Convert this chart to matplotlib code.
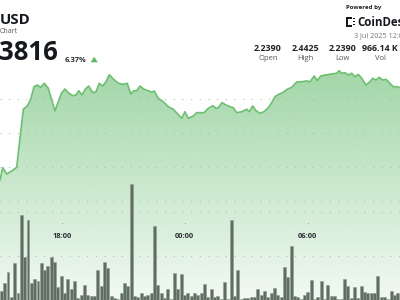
import numpy as np
import matplotlib
matplotlib.use("Agg")
import matplotlib.pyplot as plt
from matplotlib.transforms import blended_transform_factory

plt.rcParams['font.family'] = ['Open Sans', 'DejaVu Sans']

# ---------------- data ----------------
# price line: hours after 15:00 and price
price_hours = [-0.015, 0.117, 0.312, 0.556, 0.8, 1.122, 1.317, 1.483, 1.644, 1.805, 1.971, 2.146,
               2.341, 2.507, 2.668, 2.829, 2.995, 3.156, 3.317, 3.532, 3.693, 3.824, 3.985, 4.146,
               4.312, 4.507, 4.668, 4.829, 4.995, 5.156, 5.317, 5.512, 5.756, 5.971, 6.195, 6.361,
               6.522, 6.654, 6.815, 7.01, 7.22, 7.385, 7.512, 7.707, 7.951, 8.195, 8.439, 8.654,
               8.849, 9.01, 9.171, 9.415, 9.58, 9.741, 9.937, 10.146, 10.361, 10.522, 10.634, 10.815,
               11.01, 11.205, 11.366, 11.532, 11.776, 12.02, 12.146, 12.312, 12.473, 12.668, 12.863,
               13.073, 13.239, 13.4, 13.61, 13.776, 14.0, 14.215, 14.459, 14.702, 14.946, 15.107,
               15.317, 15.463, 15.629, 15.839, 16.166, 16.41, 16.537, 16.654, 16.815, 16.976, 17.141,
               17.302, 17.463, 17.63, 17.839, 18.034, 18.166, 18.327, 18.488, 18.654, 18.815, 18.976,
               19.171, 19.366, 19.498]
price_values = [2.2809, 2.2990, 2.2897, 2.2941, 2.2996, 2.3849, 2.3897, 2.3996, 2.4181, 2.4206, 2.4172,
                2.4231, 2.4157, 2.3985, 2.3828, 2.3960, 2.4093, 2.4147, 2.4093, 2.4049, 2.4059, 2.4122,
                2.4059, 2.4143, 2.4191, 2.4093, 2.4107, 2.4231, 2.4191, 2.4254, 2.4357, 2.4294, 2.4231,
                2.4216, 2.4231, 2.4074, 2.4122, 2.4122, 2.4191, 2.4143, 2.4122, 2.4099, 2.4118, 2.4010,
                2.3960, 2.3887, 2.3849, 2.3779, 2.3716, 2.3813, 2.3716, 2.3750, 2.3799, 2.3799, 2.3799,
                2.3863, 2.3901, 2.3863, 2.3872, 2.3946, 2.3912, 2.3887, 2.3872, 2.3799, 2.3813, 2.3849,
                2.3813, 2.3897, 2.3828, 2.3790, 2.3813, 2.3872, 2.3946, 2.4034, 2.4074, 2.4093, 2.4143,
                2.4172, 2.4250, 2.4254, 2.4265, 2.4254, 2.4338, 2.4269, 2.4338, 2.4353, 2.4368, 2.4378,
                2.4416, 2.4378, 2.4387, 2.4353, 2.4378, 2.4328, 2.4363, 2.4304, 2.4206, 2.4254, 2.4304,
                2.4279, 2.4319, 2.4279, 2.4290, 2.4240, 2.4181, 2.4181, 2.4166]

# volume bars (thousands)
volumes = [4.2, 7.7, 12.7, 1.4, 16.8, 3.2, 38.6, 19.5, 36.4, 7.7, 9.5, 8.6, 16.8, 13.6, 15.5, 19.5,
           17.3, 5.9, 10.9, 3.2, 9.5, 5.0, 8.6, 0.9, 2.3, 6.8, 2.3, 1.8, 1.8, 13.6, 6.4, 17.3, 14.5,
           1.8, 0.9, 0.5, 3.2, 7.7, 6.4, 52.7, 1.8, 1.4, 3.2, 1.8, 2.3, 3.2, 33.6, 6.8, 3.2, 0.9, 5.0,
           0.5, 12.3, 5.0, 11.8, 2.3, 3.2, 1.8, 3.2, 2.3,
           3.2, 7.3, 1.4, 5.0, 1.4, 1.8, 0.5, 8.2, 0.5, 36.4, 1.8, 13.6, 0.5, 0.9, 0.9, 1.4, 1.4, 5.0,
           2.3, 4.1, 1.4, 3.2, 5.5, 2.3, 1.4, 15.0, 10.5, 24.5, 1.8, 1.4, 0.5, 2.3, 3.6, 9.1, 0.5, 1.4,
           8.6, 0.5, 6.8, 1.8, 1.8, 0.5, 0.5, 9.5, 6.4, 0.9, 5.9, 0.9, 6.4, 3.6, 3.2, 3.2, 3.2, 10.9,
           1.4, 1.4, 0.5, 4.1, 2.3, 3.2]
bar_start_h = 0.05
bar_interval_h = 0.1625

tick_hours = [3, 9, 15]
tick_labels = ["18:00", "00:00", "06:00"]

price_grid = [2.25, 2.30, 2.35, 2.40]
volume_grid = [20, 40]

stat_values = ["2.2390", "2.4425", "2.2390", "966.14 K"]
stat_names = ["Open", "High", "Low", "Vol"]

# ---------------- figure ----------------
W, H = 400, 300
fig = plt.figure(figsize=(4, 3), dpi=100)
fig.patch.set_facecolor('white')
ax = fig.add_axes([0, 0, 1, 1])
ax.set_xlim(-0.0146, 19.498)
ax.set_ylim(2.1044, 2.5456)
ax.axis('off')

axv = ax.twinx()
axv.set_ylim(0, 136.36)
axv.axis('off')

line_color = '#6cc070'
x = np.array(price_hours)
y = np.array(price_values)

# gradient fill
poly = ax.fill_between(x, y, 2.1044, facecolor='none', edgecolor='none')
grad = np.zeros((256, 1, 4))
base = matplotlib.colors.to_rgb('#5cb866')
grad[..., 0] = base[0]
grad[..., 1] = base[1]
grad[..., 2] = base[2]
grad[:, 0, 3] = np.linspace(0.72, 0.08, 256)
im = ax.imshow(grad, extent=[-0.0146, 19.498, 2.1044, 2.5456], aspect='auto',
               origin='upper', zorder=1, interpolation='bilinear')
im.set_clip_path(poly.get_paths()[0], transform=ax.transData)

dots = (0, (0.9, 6.9))
for g in price_grid:
    ax.axhline(g, color='#b5b5b5', lw=0.8, linestyle=dots, zorder=2)
ax.plot(x, y, color=line_color, lw=1.2, zorder=3, solid_joinstyle='round')

for g in volume_grid:
    axv.axhline(g, color='#b5b5b5', lw=0.8, linestyle=dots, zorder=1)
bar_x = bar_start_h + bar_interval_h * np.arange(len(volumes))
axv.bar(bar_x, volumes, width=bar_interval_h * 0.88, color='#5f6e61',
        edgecolor='#8e9c90', linewidth=0.4, zorder=2)

trans = blended_transform_factory(ax.transData, ax.transAxes)
for th, tl in zip(tick_hours, tick_labels):
    axv.text(th, 1 - 237.5 / H, tl, transform=trans, ha='center', va='baseline',
             fontsize=5.4, fontweight='bold', color='#2b2f33', zorder=5)
    axv.plot([th], [1 - 223.3 / H], transform=trans, marker='s', ms=0.6, mew=0,
             color='#9a9a9a', zorder=5)

# ---------------- header texts ----------------
def ft(px, py, s, **kw):
    fig.text(px / W, 1 - py / H, s, **kw)

ft(0, 24, "USD", fontsize=10.8, fontweight='bold', color='#15191e', va='baseline')
ft(0, 32.7, "Chart", fontsize=5, color='#555555', va='baseline')
ft(-1, 60, "3816", fontsize=18.5, fontweight='bold', color='#15191e', va='baseline')
ft(65, 62, "6.37%", fontsize=5.4, fontweight='bold', color='#2b2f33', va='baseline')
fig.patches.append(plt.Polygon([[90.7 / W, 1 - 62.3 / H], [97.7 / W, 1 - 62.3 / H],
                                [94.2 / W, 1 - 56.7 / H]], closed=True,
                               transform=fig.transFigure, facecolor='#5cb85c',
                               edgecolor='none', figure=fig))

ft(345.7, 9.5, "Powered by", fontsize=4.4, fontweight='bold', color='#222222', va='baseline')
# CoinDesk logo icon (bracket glyph)
fig.patches.append(plt.Rectangle((345.7 / W, 1 - 26.5 / H), 2.2 / W, 9.5 / H,
                                 transform=fig.transFigure, facecolor='#15191e',
                                 edgecolor='none', figure=fig))
for yy in (17.2, 25.0):
    fig.patches.append(plt.Rectangle((345.7 / W, 1 - (yy + 1.5) / H), 6.0 / W, 1.5 / H,
                                     transform=fig.transFigure, facecolor='#15191e',
                                     edgecolor='none', figure=fig))
for yy in (18.0, 21.0, 24.0):
    fig.patches.append(plt.Rectangle((353.0 / W, 1 - (yy + 1.3) / H), 1.5 / W, 1.3 / H,
                                     transform=fig.transFigure, facecolor='#15191e',
                                     edgecolor='none', figure=fig))
ft(357, 26, "CoinDesk", fontsize=8.3, fontweight='bold', color='#15191e', va='baseline')
ft(354.5, 37.3, "3 Jul 2025 12:00", fontsize=5.2, color='#777777', va='baseline')

stat_x = [268, 305, 342.3, 380]
for sx, sv, sn in zip(stat_x, stat_values, stat_names):
    ft(sx, 50.7, sv, fontsize=6.4, fontweight='bold', color='#1f2328', ha='center', va='baseline')
    ft(sx, 60.3, sn, fontsize=5.5, color='#555555', ha='center', va='baseline')

fig.savefig('out.png', dpi=100)
